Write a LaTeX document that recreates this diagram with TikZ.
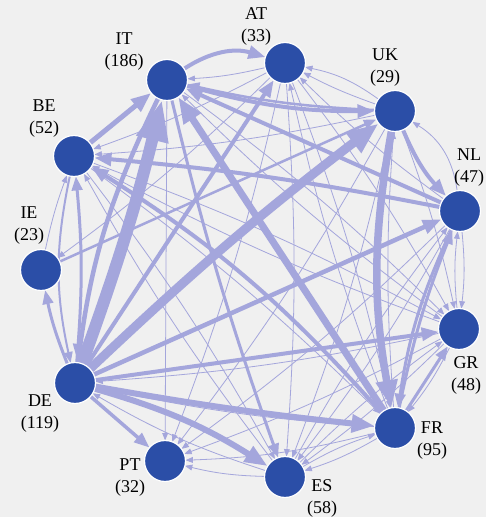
\documentclass[tikz,border=0pt]{standalone}
\usepackage{fontspec}
\setmainfont{Liberation Serif}
\usetikzlibrary{arrows.meta}
\definecolor{bgc}{RGB}{240,240,240}
\definecolor{edgec}{RGB}{164,166,220}
\definecolor{nodec}{RGB}{43,78,167}
\pgfdeclarelayer{back}\pgfdeclarelayer{bg}\pgfsetlayers{back,bg,main}
\begin{document}
\begin{tikzpicture}[x=1pt,y=1pt,
 country/.style={circle, fill=nodec, draw=white, line width=1.2pt, minimum size=41pt, inner sep=0pt, outer sep=0pt},
 lab/.style={align=center, font=\fontsize{18}{22}\selectfont, inner sep=0pt},
 edge/.style={draw=edgec, -{Triangle[length=5pt 3, width=4pt 2.2]}},
]
\begin{pgfonlayer}{back}
\fill[bgc] (0,0) rectangle (486,517);
\end{pgfonlayer}
\useasboundingbox (0,0) rectangle (486,517);
\node[country] (IT) at (167,437) {};
\node[country] (AT) at (285,454) {};
\node[country] (UK) at (395,406) {};
\node[country] (NL) at (460,306) {};
\node[country] (GR) at (459,188) {};
\node[country] (FR) at (395,89) {};
\node[country] (ES) at (285,40) {};
\node[country] (PT) at (165,56) {};
\node[country] (DE) at (75,134) {};
\node[country] (IE) at (41,247) {};
\node[country] (BE) at (74,361) {};
\node[lab] (lIT) at (124,465) {IT\\(186)};
\node[lab] (lAT) at (256,491) {AT\\(33)};
\node[lab] (lUK) at (385,449) {UK\\(29)};
\node[lab] (lNL) at (469,349) {NL\\(47)};
\node[lab] (lBE) at (44,398) {BE\\(52)};
\node[lab] (lIE) at (29,291) {IE\\(23)};
\node[lab] (lDE) at (40,103) {DE\\(119)};
\node[lab] (lPT) at (130,39) {PT\\(32)};
\node[lab] (lES) at (322,19) {ES\\(58)};
\node[lab] (lFR) at (432,76) {FR\\(95)};
\node[lab] (lGR) at (466,142) {GR\\(48)};
\begin{pgfonlayer}{bg}
\foreach \s/\t/\w/\b in {
 AT/IE/0.8/4, AT/PT/0.8/4, UK/PT/0.8/4, NL/PT/0.8/4, GR/PT/0.8/4, FR/PT/0.8/6, ES/PT/0.8/6, IT/PT/0.8/0,
 UK/ES/0.8/4, NL/ES/0.8/4, GR/ES/0.8/4, FR/ES/0.8/6, BE/ES/0.8/4, AT/ES/0.8/4,
 GR/FR/0.8/6, ES/FR/0.8/6, BE/FR/0.8/4, AT/FR/0.8/4,
 NL/GR/0.8/6, UK/GR/0.8/4, AT/GR/0.8/4, ES/GR/0.8/4, BE/GR/0.8/4, IT/GR/0.8/4,
 GR/NL/0.8/6, ES/NL/0.8/4,
 NL/UK/0.8/-25, FR/UK/0.8/4,
 UK/AT/0.8/4, UK/AT/0.8/-12, FR/AT/0.8/4, NL/AT/0.8/4,
 AT/IT/0.8/5, GR/IT/0.8/4,
 UK/BE/0.8/4, ES/BE/0.8/4, GR/BE/0.8/4, AT/BE/0.8/4, IE/BE/0.8/4,
 FR/DE/0.8/4, ES/DE/0.8/6, GR/DE/0.8/4,
 BE/DE/2/-12, IE/UK/2.5/0, UK/IT/2.5/5,
 DE/IT/12/-3, IT/DE/4.5/-9, DE/UK/9/3, UK/FR/7.5/-10, FR/IT/7/0,
 DE/FR/6/-2, DE/ES/6/8, DE/NL/4.5/0, DE/GR/4/0, DE/AT/4/0,
 DE/BE/3/-5, DE/IE/3/5, DE/PT/3.5/0, BE/IT/5/0, IT/AT/4/25,
 IT/UK/4/-8, NL/IT/4/0, NL/BE/4/-3, FR/BE/4/-8, UK/NL/4/-10,
 NL/FR/3/-8, FR/NL/3/5, FR/GR/3/0, IT/ES/3/-3}
 { \draw[edge, line width=\w pt] (\s) to[bend left=\b] (\t); }
\end{pgfonlayer}
\end{tikzpicture}
\end{document}
